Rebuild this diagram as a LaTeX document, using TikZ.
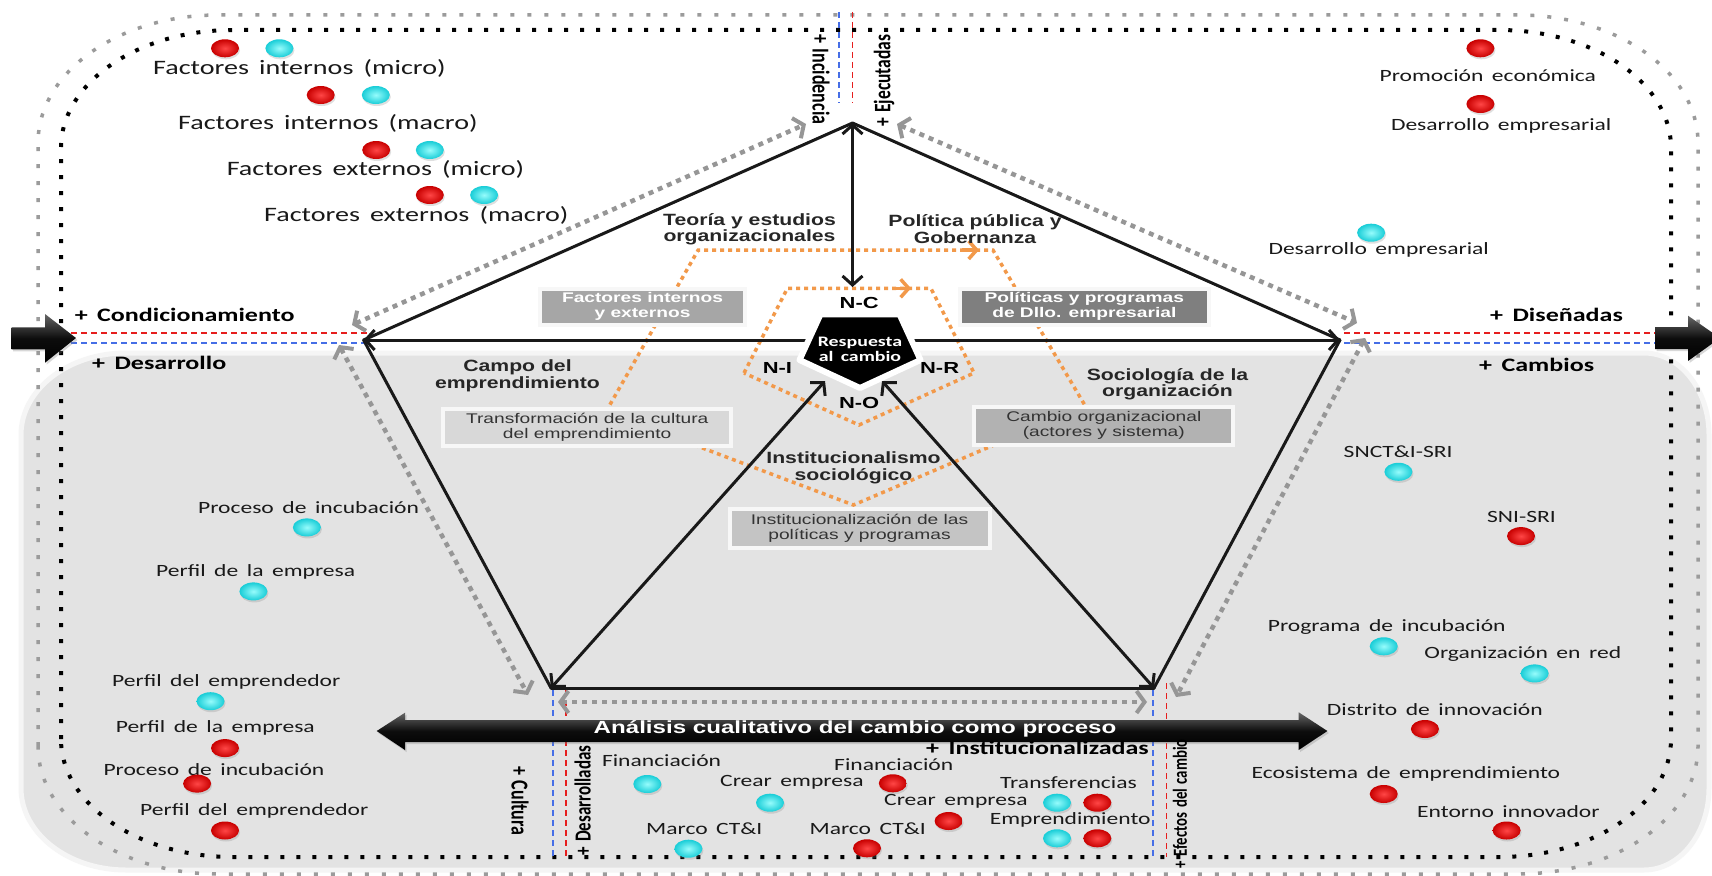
\documentclass[tikz,border=0pt]{standalone}
\usepackage{fontspec}
\usepackage{graphicx}
\usetikzlibrary{arrows.meta,shadows,shapes.geometric}
\setmainfont{Liberation Sans}
\newfontfamily\lblfont[FakeStretch=1.37,WordSpace=1.6]{Carlito}
\newfontfamily\vlblfont[WordSpace=1.4]{Carlito}
\newfontfamily\boxfont[FakeStretch=1.37]{Liberation Sans}
\newfontfamily\catfont[FakeStretch=1.3]{Liberation Sans}
\newcommand{\tallbox}[1]{\scalebox{1}[1.35]{#1}}

\definecolor{lineblue}{RGB}{70,110,230}
\definecolor{linered}{RGB}{230,30,30}
\definecolor{orangedot}{RGB}{242,153,74}
\definecolor{regiongray}{RGB}{227,227,227}
\definecolor{arrowgray}{RGB}{150,150,150}
\definecolor{outergray}{RGB}{155,155,155}
\definecolor{dotredin}{RGB}{255,70,70}
\definecolor{dotredout}{RGB}{200,0,0}
\definecolor{dotcyanin}{RGB}{150,252,252}
\definecolor{dotcyanout}{RGB}{25,205,215}
\definecolor{boxA}{RGB}{166,166,166}
\definecolor{boxB}{RGB}{127,127,127}
\definecolor{boxC}{RGB}{216,216,216}
\definecolor{boxD}{RGB}{178,178,178}
\definecolor{boxE}{RGB}{196,196,196}

\tikzset{
  every node/.style={inner sep=0pt},
  reddot/.style={ellipse, minimum width=28pt, minimum height=18pt, shade,
    inner color=dotredin, outer color=dotredout,
    drop shadow={opacity=0.25, shadow xshift=1pt, shadow yshift=-2pt}},
  cyandot/.style={ellipse, minimum width=28pt, minimum height=18pt, shade,
    inner color=dotcyanin, outer color=dotcyanout,
    drop shadow={opacity=0.25, shadow xshift=1pt, shadow yshift=-2pt}},
  lbl/.style={font=\lblfont\fontsize{17.2}{19}\selectfont, text=black!90, anchor=west},
  lblbig/.style={font=\lblfont\fontsize{20.5}{22}\selectfont, text=black!90, anchor=west},
  plbl/.style={font=\lblfont\bfseries\fontsize{19}{21}\selectfont, text=black, anchor=west},
  vlbl/.style={font=\vlblfont\bfseries\fontsize{17}{19}\selectfont, text=black},
  catlbl/.style={font=\catfont\bfseries\fontsize{16.3}{16.5}\selectfont, text=black!85, align=center},
  nlbl/.style={font=\boxfont\bfseries\fontsize{16}{18}\selectfont, text=black},
  graybox/.style={draw=white!97!black, line width=4pt, align=center,
    drop shadow={opacity=0.3, shadow xshift=1.5pt, shadow yshift=-2pt}},
  boxtxtw/.style={font=\boxfont\bfseries\fontsize{14}{15}\selectfont, text=white},
  boxtxtd/.style={font=\boxfont\fontsize{14}{15}\selectfont, text=black!80},
  blkline/.style={line width=3pt, black!90, line cap=round},
  dbl/.style={arrows={Straight Barb[length=9pt,width=20pt]-Straight Barb[length=9pt,width=20pt]}},
  garrow/.style={draw=arrowgray, line width=4.5pt, dash pattern=on 5pt off 5pt,
    arrows={Straight Barb[length=8pt,width=22pt,line width=4pt]-Straight Barb[length=8pt,width=22pt,line width=4pt]}},
  orangeline/.style={draw=orangedot, line width=3.5pt, dash pattern=on 4pt off 4pt},
  orangetip/.style={draw=orangedot, line width=3.5pt, -{Straight Barb[length=8pt,width=18pt]}},
  blackdots/.style={draw=black, line width=4pt, dash pattern=on 4pt off 12pt},
  graydots/.style={draw=outergray, line width=3.5pt, dash pattern=on 4pt off 13pt},
  rdash/.style={draw=linered, line width=1.6pt, dash pattern=on 6pt off 4pt},
  bdash/.style={draw=lineblue, line width=1.6pt, dash pattern=on 6pt off 4pt},
  blockarrow/.style={top color=black!60, bottom color=black, middle color=black!95,
    drop shadow={opacity=0.3, shadow xshift=1.5pt, shadow yshift=-2pt}}
}

\begin{document}
\begin{tikzpicture}[x=1pt,y=-1pt]
\path[use as bounding box] (0,0) rectangle (1712,875);
\clip (0,0) rectangle (1712,875);
\fill[white] (0,0) rectangle (1712,875);

% lower shaded region
\path[fill=regiongray, draw=white!96!black, line width=5pt]
  (21,788) -- (21,435) arc[start angle=180,end angle=270,x radius=105,y radius=82]
  -- (1644,353) arc[start angle=270,end angle=360,x radius=65,y radius=82]
  -- (1709,788) arc[start angle=0,end angle=90,x radius=65,y radius=82]
  -- (126,870) arc[start angle=90,end angle=180,x radius=105,y radius=82] -- cycle;

% dotted frames
\draw[graydots]
  (38,746) -- (38,143) arc[start angle=180,end angle=270,x radius=180,y radius=128]
  -- (1518,15) arc[start angle=270,end angle=360,x radius=180,y radius=128]
  -- (1698,746) arc[start angle=0,end angle=90,x radius=180,y radius=128]
  -- (218,874) arc[start angle=90,end angle=180,x radius=180,y radius=128] -- cycle;
\draw[blackdots]
  (61,739) -- (61,148) arc[start angle=180,end angle=270,x radius=172,y radius=118]
  -- (1499,30) arc[start angle=270,end angle=360,x radius=172,y radius=118]
  -- (1671,739) arc[start angle=0,end angle=90,x radius=172,y radius=118]
  -- (233,857) arc[start angle=90,end angle=180,x radius=172,y radius=118] -- cycle;

% red and blue guide lines
\draw[rdash] (71,333) -- (373,333);
\draw[bdash] (71,343) -- (364,343);
\draw[rdash] (1344,333) -- (1712,333);
\draw[bdash] (1344,343) -- (1712,343);
\draw[bdash] (839,12) -- (839,103);
\draw[rdash] (852.5,12) -- (852.5,103);
\draw[bdash] (552.7,690) -- (552.7,857);
\draw[rdash] (566,690) -- (566,857);
\draw[bdash] (1153,690) -- (1153,857);
\draw[rdash] (1166.5,683) -- (1166.5,857);

% orange dotted pentagons
\draw[orangeline] (606,411.6) -- (698.2,250) -- (992.9,250) -- (1085.3,406) -- (853.4,505) -- cycle;
\draw[orangetip] (962,250) -- (979,250);
\draw[orangeline] (744,373) -- (787.4,288.3) -- (930.9,288.3) -- (974,373) -- (859,425) -- cycle;
\draw[orangetip] (896,288.3) -- (911,288.3);

% pentagon vertices
\coordinate (T) at (852.5,123);
\coordinate (L) at (363.6,340);
\coordinate (R) at (1340,340);
\coordinate (BL) at (551,688);
\coordinate (BR) at (1154,688);
\coordinate (NCt) at (852.5,287);
\coordinate (CL) at (825,381);
\coordinate (CR) at (882,381);

\draw[blkline] (T) -- (L);
\draw[blkline] (T) -- (R);
\draw[blkline] (L) -- (BL);
\draw[blkline] (R) -- (BR);
\draw[blkline] (BL) -- (BR);
\draw[blkline, dbl] (L) -- (R);
\draw[blkline, dbl] (T) -- (NCt);
\draw[blkline, dbl] (BL) -- (CL);
\draw[blkline, dbl] (BR) -- (CR);

% gray dotted double arrows
\coordinate (g1a) at (352,325);  \coordinate (g1b) at (806,124);
\coordinate (g2a) at (897,124);  \coordinate (g2b) at (1357,323);
\coordinate (g3a) at (339,345);  \coordinate (g3b) at (528,695);
\coordinate (g4a) at (1365,338); \coordinate (g4b) at (1176,697);
\coordinate (g5a) at (558,702);  \coordinate (g5b) at (1147,702);
\draw[garrow] (g1a) -- (g1b);
\draw[garrow] (g2a) -- (g2b);
\draw[garrow] (g3a) -- (g3b);
\draw[garrow] (g4a) -- (g4b);
\draw[garrow] (g5a) -- (g5b);

% boxes
\node[graybox, fill=boxA, minimum width=205.5pt, minimum height=36pt] (fie) at (642.5,306.7) {};
\node[boxtxtw, align=center] (fietxt) at (642.5,306.7) {Factores internos\\y externos};
\node[graybox, fill=boxB, minimum width=248.5pt, minimum height=36pt] (ppd) at (1084.3,306.7) {};
\node[boxtxtw, align=center] (ppdtxt) at (1084.3,306.7) {Políticas y programas\\de Dllo. empresarial};
\node[graybox, fill=boxC, minimum width=287.7pt, minimum height=37.6pt] (tce) at (587.2,427.5) {};
\node[boxtxtd, align=center] (tcetxt) at (587.2,427.5) {Transformación de la cultura\\del emprendimiento};
\node[graybox, fill=boxD, minimum width=259pt, minimum height=37.7pt] (coa) at (1103.8,425.8) {};
\node[boxtxtd, align=center] (coatxt) at (1103.8,425.8) {Cambio organizacional\\(actores y sistema)};
\node[graybox, fill=boxE, minimum width=260pt, minimum height=39pt] (ipp) at (859.5,528.3) {};
\node[boxtxtd, align=center] (ipptxt) at (859.5,528.3) {Institucionalización de las\\políticas y programas};

% theory labels
\node[catlbl] (teo) at (749.5,229) {Teoría y estudios\\organizacionales};
\node[catlbl] (pol) at (975,229) {Política pública y\\Gobernanza};
\node[catlbl] (campo) at (517.5,376) {Campo del\\emprendimiento};
\node[catlbl] (socio) at (1167.5,384) {Sociología de la\\organización};
\node[catlbl] (insti) at (853.5,468) {Institucionalismo\\sociológico};

% central response shape
\path[fill=black, draw=white, line width=6pt, line join=round,
      drop shadow={opacity=0.3, shadow xshift=1.5pt, shadow yshift=-2pt}]
  (820.5,314.3) -- (899.5,314.3) -- (920.5,360) -- (860,388) -- (799.5,360) -- cycle;
\node[font=\lblfont\bfseries\fontsize{14.5}{15}\selectfont, text=white, align=center] (resp) at (860,349.5) {Respuesta\\al cambio};

\node[nlbl] (nc) at (859.2,303.3) {N-C};
\node[nlbl] (ni) at (777.4,368.3) {N-I};
\node[nlbl] (nr) at (939.6,368.3) {N-R};
\node[nlbl] (no) at (859.2,403.3) {N-O};

% side block arrows
\path[blockarrow] (11.7,327.3) -- (45,327.3) -- (45,314) -- (76,338) -- (45,362.7) -- (45,349.3) -- (11.7,349.3) -- cycle;
\path[blockarrow] (1655,327) -- (1688,327) -- (1688,315.7) -- (1720,338) -- (1688,361) -- (1688,349) -- (1655,349) -- cycle;

% process arrow
\path[blockarrow] (376.7,731) -- (405,712.7) -- (405,720) -- (1298.7,720) -- (1298.7,712.3) -- (1327.4,731)
  -- (1298.7,750) -- (1298.7,742) -- (405,742) -- (405,750) -- cycle;
\node[font=\boxfont\bfseries\fontsize{17.6}{18}\selectfont, text=white] (ana) at (855,728.5) {Análisis cualitativo del cambio como proceso};

% plus labels
\node[plbl] (cond) at (74.6,315) {+ Condicionamiento};
\node[plbl] (dise) at (1490,315) {+ Diseñadas};
\node[plbl] (desa) at (92,363) {+ Desarrollo};
\node[plbl] (camb) at (1479,365) {+ Cambios};
\node[plbl] (instz) at (926,748) {+ Institucionalizadas};
\node[vlbl, rotate=-90, anchor=west, font=\vlblfont\bfseries\fontsize{18}{19}\selectfont] (incid) at (821,34) {\tallbox{+ Incidencia}};
\node[vlbl, rotate=90, anchor=west, font=\vlblfont\bfseries\fontsize{17.5}{19}\selectfont] (ejec) at (884,127) {\tallbox{+ Ejecutadas}};
\node[vlbl, rotate=-90, anchor=west, font=\vlblfont\bfseries\fontsize{18}{19}\selectfont] (cult) at (520,766) {\tallbox{+ Cultura}};
\node[vlbl, rotate=90, anchor=west] (desad) at (582.6,856) {\tallbox{+ Desarrolladas}};
\node[vlbl, rotate=90, anchor=east, font=\vlblfont\bfseries\fontsize{14.8}{16}\selectfont] (efec) at (1180,739) {\tallbox{+ Efectos del cambio}};

% factor groups (top left)
\node[reddot] (r1) at (225,48.3) {};   \node[cyandot] (c1) at (279.4,48.3) {};
\node[lblbig] (t1) at (153,68.3) {Factores internos (micro)};
\node[reddot] (r2) at (320.7,95) {};   \node[cyandot] (c2) at (375.8,95) {};
\node[lblbig] (t2) at (178,123.3) {Factores internos (macro)};
\node[reddot] (r3) at (376.2,150) {};  \node[cyandot] (c3) at (429.8,150) {};
\node[lblbig] (t3) at (226.6,169.3) {Factores externos (micro)};
\node[reddot] (r4) at (429.8,195) {};  \node[cyandot] (c4) at (484.1,195) {};
\node[lblbig] (t4) at (264,215) {Factores externos (macro)};

% top right
\node[reddot] (r5) at (1480.4,48.3) {};
\node[lbl] (t5) at (1379.4,75.3) {Promoción económica};
\node[reddot] (r6) at (1480.4,104) {};
\node[lbl] (t6) at (1390.8,126) {Desarrollo empresarial};
\node[cyandot] (c5) at (1371.1,232.7) {};
\node[lbl] (t7) at (1268.3,250) {Desarrollo empresarial};

% lower left
\node[lbl] (t8) at (197.9,507.3) {Proceso de incubación};
\node[cyandot] (c6) at (306.9,527.4) {};
\node[lbl] (t9) at (156,572.3) {Perfil de la empresa};
\node[cyandot] (c7) at (253.4,591.4) {};
\node[lbl] (t10) at (112,682.1) {Perfil del emprendedor};
\node[cyandot] (c8) at (210.5,701.2) {};
\node[lbl] (t11) at (115.6,728) {Perfil de la empresa};
\node[reddot] (r7) at (225,748.1) {};
\node[lbl] (t12) at (103.3,769.7) {Proceso de incubación};
\node[reddot] (r8) at (197.1,783.6) {};
\node[lbl] (t13) at (140,811.4) {Perfil del emprendedor};
\node[reddot] (r9) at (225,830.5) {};

% lower right
\node[lbl] (t14) at (1343.5,451.7) {SNCT\&I-SRI};
\node[cyandot] (c9) at (1398.4,471.8) {};
\node[lbl] (t15) at (1486.9,517) {SNI-SRI};
\node[reddot] (r10) at (1521,536.1) {};
\node[lbl] (t16) at (1267.6,626.5) {Programa de incubación};
\node[cyandot] (c10) at (1383.7,646.3) {};
\node[lbl] (t17) at (1424.2,654) {Organización en red};
\node[cyandot] (c11) at (1534.6,673.4) {};
\node[lbl] (t18) at (1326.7,709.9) {Distrito de innovación};
\node[reddot] (r11) at (1424.9,729) {};
\node[lbl] (t19) at (1251.4,774.2) {Ecosistema de emprendimiento};
\node[reddot] (r12) at (1383.7,794) {};
\node[lbl] (t20) at (1417,811.4) {Entorno innovador};
\node[reddot] (r13) at (1506.6,830.5) {};

% bottom middle
\node[lbl] (t21) at (601.8,761) {Financiación};
\node[cyandot] (c12) at (647.3,784) {};
\node[lbl] (t22) at (720,782.7) {Crear empresa};
\node[cyandot] (c13) at (770,802.7) {};
\node[lbl] (t23) at (646,828.3) {Marco CT\&I};
\node[cyandot] (c14) at (688.4,848.7) {};
\node[lbl] (t24) at (834,764.3) {Financiación};
\node[reddot] (r14) at (892.8,783.3) {};
\node[lbl] (t25) at (809.4,828.3) {Marco CT\&I};
\node[reddot] (r15) at (867,848.3) {};
\node[lbl] (t26) at (884,801.7) {Crear empresa};
\node[reddot] (r16) at (948.6,821) {};
\node[lbl] (t27) at (1000,782.7) {Transferencias};
\node[cyandot] (c15) at (1057,802.7) {};
\node[reddot] (r17) at (1097.3,802.7) {};
\node[lbl] (t28) at (989.7,820) {Emprendimiento};
\node[cyandot] (c16) at (1057,838.3) {};
\node[reddot] (r18) at (1097.3,838.3) {};
\end{tikzpicture}
\end{document}
